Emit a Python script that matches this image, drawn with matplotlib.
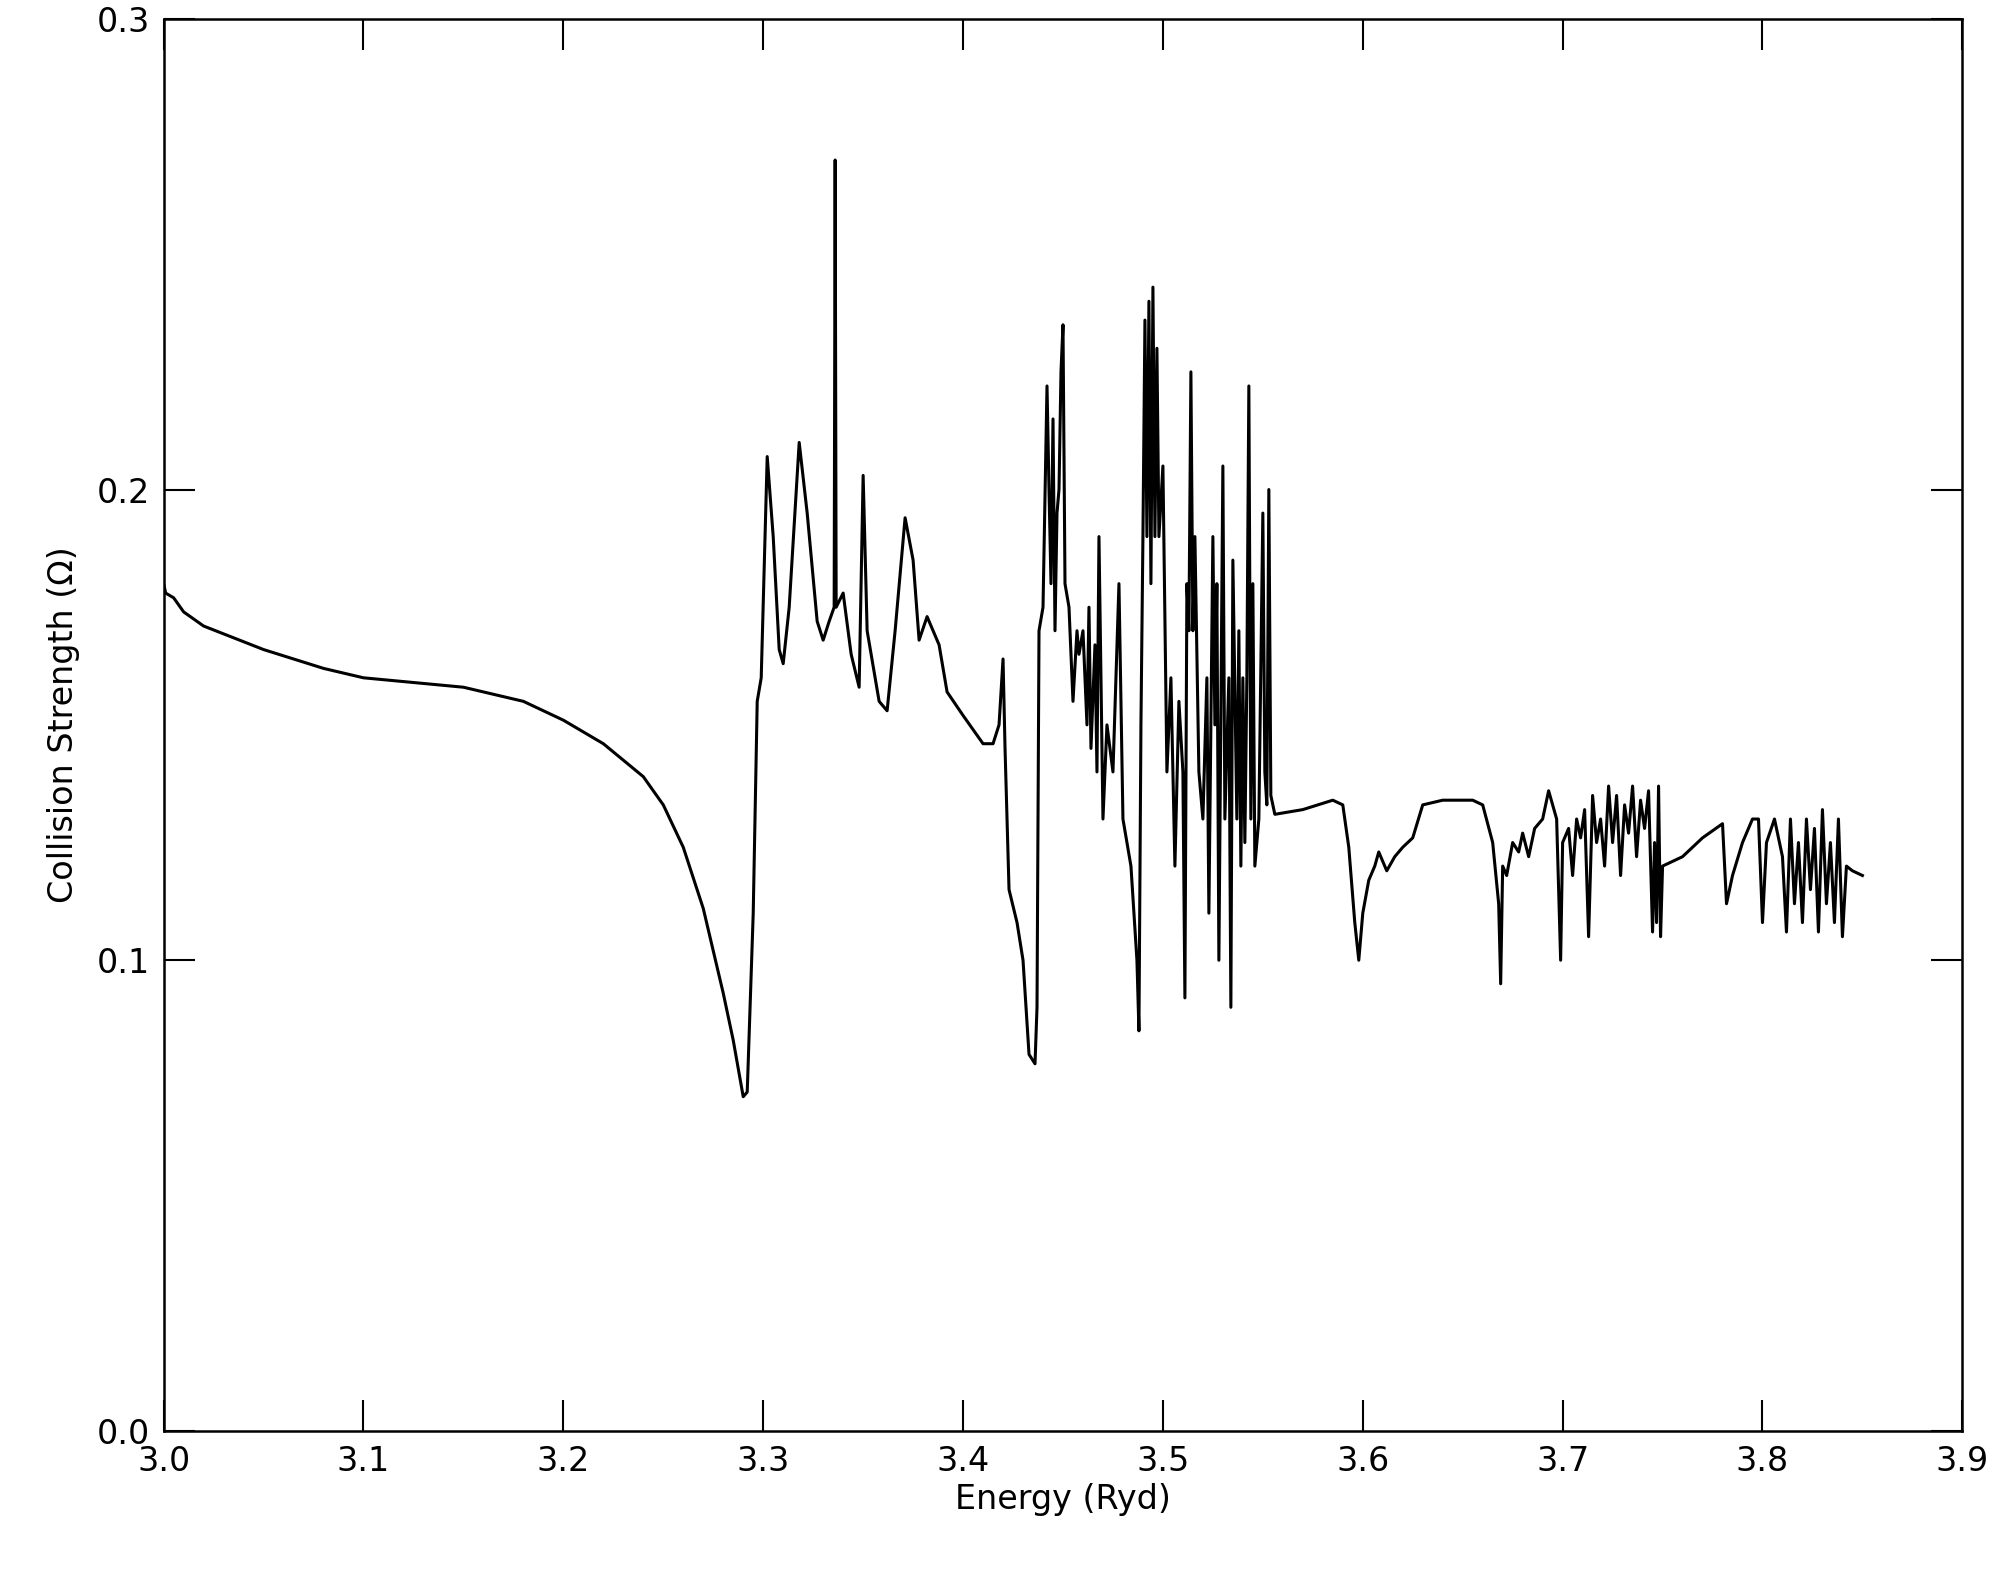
import matplotlib
matplotlib.use("Agg")
import matplotlib.pyplot as plt

energy = [3.0,3.001,3.005,3.01,3.02,3.05,3.08,3.1,3.15,3.18,3.2,3.22,3.24,3.25,3.26,3.27,3.28,3.285,3.29,3.292,3.295,3.297,3.299,3.302,3.305,3.308,3.31,3.313,3.318,3.322,3.327,3.33,3.333,3.3355,3.336,3.3365,3.34,3.344,3.348,3.35,3.352,3.358,3.362,3.366,3.371,3.375,3.378,3.382,3.388,3.392,3.4,3.41,3.415,3.418,3.42,3.421,3.423,3.427,3.43,3.433,3.436,3.437,3.438,3.44,3.442,3.443,3.444,3.445,3.446,3.447,3.448,3.449,3.45,3.451,3.453,3.455,3.457,3.458,3.46,3.462,3.463,3.464,3.466,3.467,3.468,3.47,3.472,3.475,3.478,3.48,3.484,3.487,3.488,3.489,3.49,3.491,3.492,3.493,3.494,3.495,3.496,3.497,3.498,3.5,3.502,3.504,3.506,3.508,3.51,3.511,3.512,3.513,3.514,3.515,3.516,3.518,3.52,3.522,3.523,3.525,3.526,3.527,3.528,3.53,3.531,3.533,3.534,3.535,3.537,3.538,3.539,3.54,3.541,3.542,3.543,3.544,3.545,3.546,3.548,3.55,3.551,3.552,3.553,3.554,3.556,3.57,3.585,3.59,3.593,3.596,3.598,3.6,3.603,3.606,3.608,3.612,3.616,3.62,3.625,3.63,3.64,3.655,3.66,3.665,3.668,3.669,3.67,3.672,3.675,3.678,3.68,3.683,3.686,3.69,3.693,3.697,3.699,3.7,3.703,3.705,3.707,3.709,3.711,3.713,3.715,3.717,3.719,3.721,3.723,3.725,3.727,3.729,3.731,3.733,3.735,3.737,3.739,3.741,3.743,3.745,3.746,3.747,3.748,3.749,3.75,3.76,3.77,3.78,3.782,3.785,3.79,3.795,3.798,3.8,3.802,3.806,3.81,3.812,3.814,3.816,3.818,3.82,3.822,3.824,3.826,3.828,3.83,3.832,3.834,3.836,3.838,3.84,3.842,3.845,3.85]
omega = [0.18,0.178,0.177,0.174,0.171,0.166,0.162,0.160,0.158,0.155,0.151,0.146,0.139,0.133,0.124,0.111,0.093,0.083,0.071,0.072,0.11,0.155,0.16,0.207,0.19,0.166,0.163,0.175,0.210,0.195,0.172,0.168,0.172,0.175,0.27,0.175,0.178,0.165,0.158,0.203,0.17,0.155,0.153,0.17,0.194,0.185,0.168,0.173,0.167,0.157,0.152,0.146,0.146,0.15,0.164,0.145,0.115,0.108,0.1,0.08,0.078,0.09,0.17,0.175,0.222,0.2,0.18,0.215,0.17,0.195,0.2,0.225,0.235,0.18,0.175,0.155,0.17,0.165,0.17,0.15,0.175,0.145,0.167,0.14,0.19,0.13,0.15,0.14,0.18,0.13,0.12,0.1,0.085,0.15,0.19,0.236,0.19,0.24,0.18,0.243,0.19,0.23,0.19,0.205,0.14,0.16,0.12,0.155,0.14,0.092,0.18,0.17,0.225,0.17,0.19,0.14,0.13,0.16,0.11,0.19,0.15,0.18,0.10,0.205,0.13,0.16,0.09,0.185,0.13,0.17,0.12,0.16,0.125,0.16,0.222,0.13,0.18,0.12,0.13,0.195,0.14,0.133,0.2,0.135,0.131,0.132,0.134,0.133,0.124,0.108,0.1,0.11,0.117,0.12,0.123,0.119,0.122,0.124,0.126,0.133,0.134,0.134,0.133,0.125,0.112,0.095,0.12,0.118,0.125,0.123,0.127,0.122,0.128,0.13,0.136,0.13,0.1,0.125,0.128,0.118,0.13,0.126,0.132,0.105,0.135,0.125,0.13,0.12,0.137,0.125,0.135,0.118,0.133,0.127,0.137,0.122,0.134,0.128,0.136,0.106,0.125,0.108,0.137,0.105,0.12,0.122,0.126,0.129,0.112,0.118,0.125,0.13,0.13,0.108,0.125,0.13,0.122,0.106,0.13,0.112,0.125,0.108,0.13,0.115,0.128,0.106,0.132,0.112,0.125,0.108,0.13,0.105,0.12,0.119,0.118]

fig = plt.figure(figsize=(20.03, 15.69), dpi=100)
ax = fig.add_axes([0.0817, 0.088, 0.898, 0.9])
ax.plot(energy, omega, color='black', lw=2.2)
ax.set_xlim(3.0, 3.9)
ax.set_ylim(0.0, 0.3)
ax.set_xticks([3.0,3.1,3.2,3.3,3.4,3.5,3.6,3.7,3.8,3.9])
ax.set_yticks([0.0,0.1,0.2,0.3])
ax.xaxis.set_major_formatter(matplotlib.ticker.FormatStrFormatter('%.1f'))
ax.yaxis.set_major_formatter(matplotlib.ticker.FormatStrFormatter('%.1f'))
ax.tick_params(direction='in', length=22, width=1.5, labelsize=24, top=True, right=True, pad=10)
for s in ax.spines.values():
    s.set_linewidth(1.8)
ax.set_xlabel('Energy (Ryd)', fontsize=24, labelpad=4)
ax.set_ylabel('Collision Strength (Ω)', fontsize=24, labelpad=12)
fig.savefig('out.png', dpi=100)
